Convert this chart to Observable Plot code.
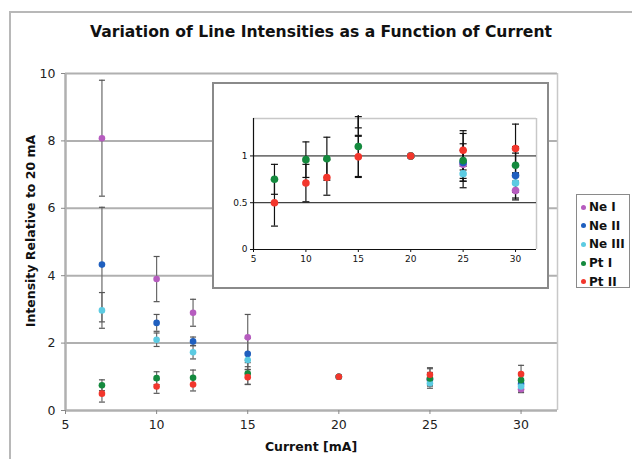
<!DOCTYPE html>
<html><head><meta charset="utf-8">
<script src="https://cdn.jsdelivr.net/npm/d3@7"></script>
<script src="https://cdn.jsdelivr.net/npm/@observablehq/plot@0.6"></script>
<style>
html,body{margin:0;padding:0;background:#fff;overflow:hidden;}
#wrap{position:relative;width:632px;height:459px;overflow:hidden;font-family:"DejaVu Sans",sans-serif;color:#111;}
#frame{position:absolute;left:9px;top:11px;width:700px;height:520px;border:2px solid #b8b8b8;box-sizing:border-box;}
#title{position:absolute;left:0;width:642px;top:23px;text-align:center;font-weight:bold;font-size:15.6px;}
#main{position:absolute;left:0;top:0;}
#inset{position:absolute;left:212px;top:82px;width:337px;height:207px;border:2px solid #8a8a8a;box-sizing:border-box;background:#fff;}
#inset svg{position:absolute;left:0;top:0;}
#xlab{position:absolute;left:211px;width:200px;text-align:center;top:439px;font-weight:bold;font-size:12.5px;}
#ylab{position:absolute;left:30px;top:231px;transform:translate(-50%,-50%) rotate(-90deg);white-space:nowrap;font-weight:bold;font-size:12.5px;}
#legend{position:absolute;left:576px;top:194px;width:54px;height:94px;border:1px solid #8a8a8a;box-sizing:border-box;background:#fff;padding-top:3px;}
.li{height:18.6px;display:flex;align-items:center;font-weight:bold;font-size:12px;}
.sw{width:5px;height:5px;border-radius:50%;margin-left:4px;margin-right:3px;}
</style></head><body>
<div id="wrap">
 <div id="frame"></div>
 <div id="title">Variation of Line Intensities as a Function of Current</div>
 <div id="main"></div>
 <div id="inset"></div>
 <div id="xlab">Current [mA]</div>
 <div id="ylab">Intensity Relative to 20 mA</div>
 <div id="legend"></div>
</div>
<script>
const currents = [7, 10, 12, 15, 20, 25, 30];
const seriesNames = ["Ne I", "Ne II", "Ne III", "Pt I", "Pt II"];
const seriesColors = ["#b65cbf", "#1f5fbf", "#5ccbe2", "#148a3e", "#f2362c"];
const neI     = [8.08, 3.90, 2.90, 2.17, 1.00, 0.91, 0.63];
const neIErr  = [1.72, 0.67, 0.40, 0.68, 0.00, 0.15, 0.10];
const neII    = [4.33, 2.60, 2.05, 1.68, 1.00, 0.93, 0.79];
const neIIErr = [1.70, 0.25, 0.13, 0.46, 0.00, 0.20, 0.24];
const neIII   = [2.97, 2.10, 1.73, 1.50, 1.00, 0.81, 0.71];
const neIIIErr= [0.53, 0.20, 0.20, 0.20, 0.00, 0.08, 0.10];
const ptI     = [0.75, 0.96, 0.97, 1.10, 1.00, 0.95, 0.90];
const ptIErr  = [0.16, 0.19, 0.23, 0.32, 0.00, 0.29, 0.20];
const ptII    = [0.50, 0.71, 0.77, 0.99, 1.00, 1.06, 1.08];
const ptIIErr = [0.25, 0.20, 0.19, 0.22, 0.00, 0.21, 0.26];
const mainXTicks = [5, 10, 15, 20, 25, 30];
const mainYTicks = [0, 2, 4, 6, 8, 10];
const insetYTicks = [0, 0.5, 1];

const values = [neI, neII, neIII, ptI, ptII];
const errors = [neIErr, neIIErr, neIIIErr, ptIErr, ptIIErr];
const rows = [];
seriesNames.forEach((s, i) => currents.forEach((c, j) => {
  rows.push({series: s, x: c, v: values[i][j], e: errors[i][j]});
}));
const errRows = rows.filter(d => d.e > 0);
const capSymbol = {draw(ctx, size) { const w = Math.sqrt(size / Math.PI); ctx.moveTo(-w, 0); ctx.lineTo(w, 0); }};
const color = {domain: seriesNames, range: seriesColors};

const main = Plot.plot({
  width: 632, height: 459,
  marginLeft: 65, marginRight: 75, marginTop: 73, marginBottom: 49,
  style: {fontFamily: "DejaVu Sans, sans-serif", fontSize: "11px", background: "transparent", color: "#222"},
  x: {domain: [5, 32]},
  y: {domain: [0, 10]},
  color,
  marks: [
    Plot.ruleY(mainYTicks.filter(t => t > 0), {stroke: "#b0b0b0", strokeWidth: 2}),
    Plot.ruleX([32], {stroke: "#c8c8c8", strokeWidth: 1.5}),
    Plot.ruleY([0], {stroke: "#b0b0b0", strokeWidth: 2.5}),
    Plot.ruleX([5], {stroke: "#b0b0b0", strokeWidth: 2.5}),
    Plot.axisX({ticks: mainXTicks, tickSize: 4, tickPadding: 6, stroke: "#888", fontSize: 12.5, label: null}),
    Plot.axisY({ticks: mainYTicks, tickSize: 4, tickPadding: 6, stroke: "#888", fontSize: 12.5, label: null}),
    Plot.ruleX(errRows, {x: "x", y1: d => d.v - d.e, y2: d => d.v + d.e, stroke: "#6a6a6a", strokeWidth: 1.2}),
    Plot.dot(errRows, {x: "x", y: d => d.v - d.e, symbol: capSymbol, r: 3, stroke: "#555", strokeWidth: 1.2}),
    Plot.dot(errRows, {x: "x", y: d => d.v + d.e, symbol: capSymbol, r: 3, stroke: "#555", strokeWidth: 1.2}),
    Plot.dot(rows, {x: "x", y: "v", fill: "series", r: 3.3})
  ]
});
document.getElementById("main").appendChild(main);

const insetTop = 1.43;
const insetErr = errRows.filter(d => d.v - d.e <= insetTop);
const inset = Plot.plot({
  width: 333, height: 203,
  marginLeft: 39, marginRight: 11, marginTop: 34, marginBottom: 38,
  style: {fontFamily: "DejaVu Sans, sans-serif", fontSize: "9px", background: "transparent", color: "#111"},
  x: {domain: [5, 32]},
  y: {domain: [0, 1.4]},
  color,
  marks: [
    Plot.ruleY([1.4], {stroke: "#c8c8c8", strokeWidth: 1.5}),
    Plot.ruleX([32], {stroke: "#c8c8c8", strokeWidth: 1.5}),
    Plot.ruleY(insetYTicks.filter(t => t > 0), {stroke: "#111", strokeWidth: 1}),
    Plot.ruleY([0], {stroke: "#111", strokeWidth: 1.2}),
    Plot.ruleX([5], {stroke: "#111", strokeWidth: 1.2}),
    Plot.axisX({ticks: mainXTicks, tickSize: 3, tickPadding: 3, stroke: "#111", fontSize: 9, label: null}),
    Plot.axisY({ticks: insetYTicks, tickSize: 3, tickPadding: 3, stroke: "#111", fontSize: 9, label: null, tickFormat: d => String(d)}),
    Plot.ruleX(insetErr, {x: "x", y1: d => Math.max(0, d.v - d.e), y2: d => Math.min(insetTop, d.v + d.e), stroke: "#111", strokeWidth: 1.2}),
    Plot.dot(insetErr, {x: "x", y: d => d.v - d.e, symbol: capSymbol, r: 3.5, stroke: "#111", strokeWidth: 1.2}),
    Plot.dot(insetErr.filter(d => d.v + d.e <= insetTop), {x: "x", y: d => d.v + d.e, symbol: capSymbol, r: 3.5, stroke: "#111", strokeWidth: 1.2}),
    Plot.dot(rows.filter(d => d.v <= 1.4), {x: "x", y: "v", fill: "series", r: 3.8})
  ]
});
document.getElementById("inset").appendChild(inset);

const leg = document.getElementById("legend");
seriesNames.forEach((s, i) => {
  const el = document.createElement("div");
  el.className = "li";
  el.innerHTML = `<span class="sw" style="background:${seriesColors[i]}"></span>${s}`;
  leg.appendChild(el);
});
</script>
</body></html>
